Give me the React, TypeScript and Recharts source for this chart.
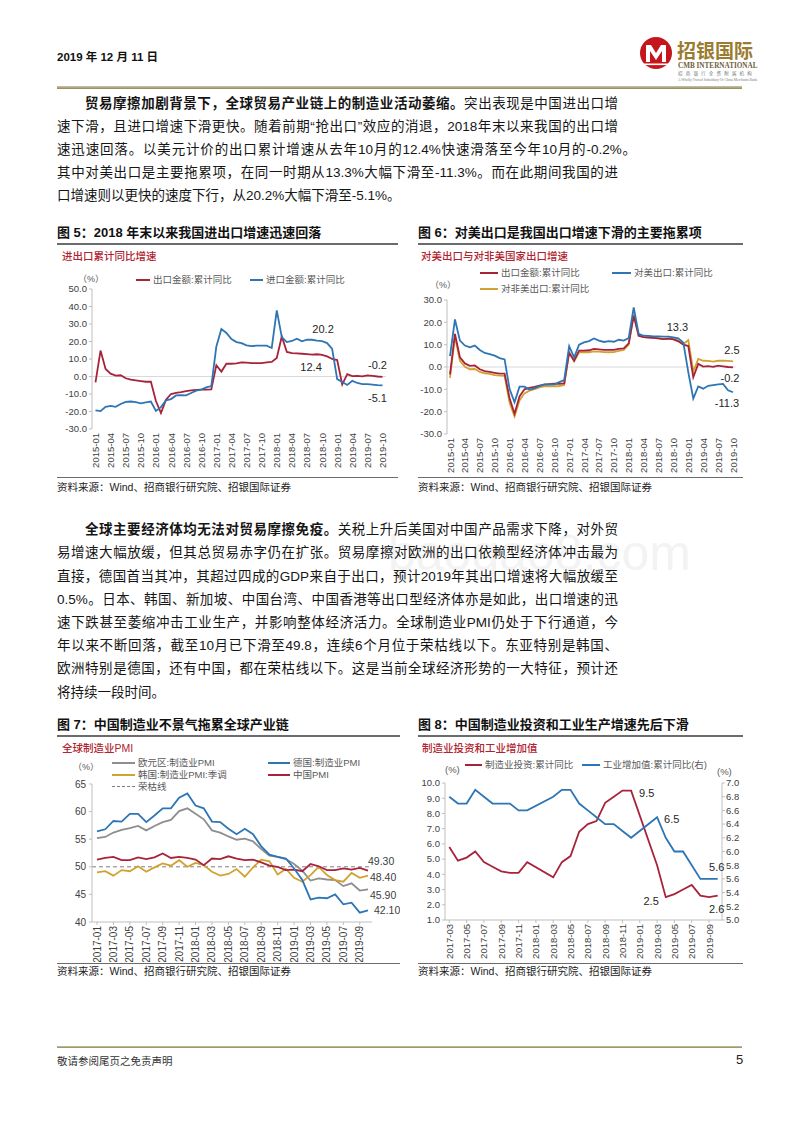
import React from "react"
import { LineChart, Line, XAxis, YAxis, ReferenceLine, LabelList } from "recharts"

// ---- data ----------------------------------------------------------------

const MONTHS_1519 = [
  "2015-01", "2015-02", "2015-03", "2015-04", "2015-05", "2015-06", "2015-07", "2015-08", "2015-09", "2015-10", "2015-11", "2015-12",
  "2016-01", "2016-02", "2016-03", "2016-04", "2016-05", "2016-06", "2016-07", "2016-08", "2016-09", "2016-10", "2016-11", "2016-12",
  "2017-01", "2017-02", "2017-03", "2017-04", "2017-05", "2017-06", "2017-07", "2017-08", "2017-09", "2017-10", "2017-11", "2017-12",
  "2018-01", "2018-02", "2018-03", "2018-04", "2018-05", "2018-06", "2018-07", "2018-08", "2018-09", "2018-10", "2018-11", "2018-12",
  "2019-01", "2019-02", "2019-03", "2019-04", "2019-05", "2019-06", "2019-07", "2019-08", "2019-09", "2019-10",
]

// 出口金额:累计同比
const EXPORT_YOY = [
  -3.3, 14.8, 4.3, 1.6, 0.5, 0.7, -1.0, -1.8, -2.2, -2.6, -3.0, -3.0,
  -14.0, -20.9, -13.2, -10.0, -9.4, -8.9, -8.3, -7.9, -7.7, -7.5, -7.5, -7.3,
  6.4, 2.8, 7.3, 7.3, 7.5, 8.1, 7.9, 7.7, 7.7, 7.7, 8.1, 8.3,
  10.6, 22.9, 14.0, 13.4, 13.2, 13.0, 12.8, 12.5, 12.7, 12.4, 11.5, 10.0,
  9.4, -4.6, 1.4, 0.2, 0.4, 0.1, 0.6, 0.3, 0.0, -0.2,
]

// 进口金额:累计同比
const IMPORT_YOY = [
  -19.4, -19.8, -17.3, -16.8, -17.3, -15.7, -14.5, -14.3, -14.7, -15.3, -14.8, -14.3,
  -19.7, -17.5, -13.6, -12.9, -10.8, -10.6, -10.8, -9.4, -8.1, -7.5, -6.2, -5.5,
  17.2, 27.1, 24.9, 21.4, 19.7, 19.1, 17.8, 17.4, 17.6, 17.6, 17.6, 16.3,
  37.8, 22.5, 19.7, 20.3, 21.6, 20.1, 21.0, 21.0, 20.5, 20.2, 19.1, 15.8,
  -1.5, -3.1, -4.8, -2.5, -3.7, -4.3, -4.4, -4.6, -4.9, -5.1,
]

// 对美出口:累计同比
const US_EXPORT_YOY = [
  4.9, 21.3, 11.8, 9.6, 8.8, 9.6, 7.6, 6.3, 5.8, 5.1, 4.0, 3.4,
  -9.9, -15.8, -8.8, -8.8, -10.1, -9.6, -8.6, -7.8, -7.8, -7.9, -6.8, -5.9,
  9.3, 4.3, 10.0, 11.0, 11.6, 12.8, 11.8, 11.2, 11.6, 11.3, 12.2, 11.8,
  13.0, 26.7, 14.8, 14.0, 13.9, 13.7, 13.7, 13.6, 13.6, 13.3, 12.8, 10.9,
  -2.4, -14.1, -8.7, -9.7, -8.4, -8.1, -7.8, -7.6, -10.4, -11.3,
]

// 对非美出口:累计同比
const NONUS_EXPORT_YOY = [
  -4.9, 13.6, 2.8, 0.1, -1.0, -0.9, -2.2, -2.8, -3.1, -3.6, -3.9, -4.0,
  -16.0, -22.1, -15.0, -11.8, -10.6, -9.9, -9.1, -8.7, -8.5, -8.7, -8.5, -8.1,
  6.6, 2.5, 6.6, 6.6, 6.6, 7.0, 6.9, 6.7, 6.6, 6.7, 7.2, 7.6,
  10.0, 23.7, 14.0, 13.4, 13.3, 13.1, 12.8, 12.5, 12.7, 12.7, 11.8, 10.3,
  12.0, -2.0, 3.6, 2.8, 2.7, 2.4, 2.8, 2.8, 2.7, 2.5,
]

const MONTHS_1719 = [
  "2017-01", "2017-02", "2017-03", "2017-04", "2017-05", "2017-06", "2017-07", "2017-08", "2017-09", "2017-10", "2017-11", "2017-12",
  "2018-01", "2018-02", "2018-03", "2018-04", "2018-05", "2018-06", "2018-07", "2018-08", "2018-09", "2018-10", "2018-11", "2018-12",
  "2019-01", "2019-02", "2019-03", "2019-04", "2019-05", "2019-06", "2019-07", "2019-08", "2019-09", "2019-10",
]

const EZ_PMI = [
  55.2, 55.4, 56.2, 56.7, 57.0, 57.4, 56.6, 57.4, 58.1, 58.5, 60.1, 60.6,
  59.6, 58.6, 56.6, 56.2, 55.5, 54.9, 55.1, 54.6, 53.2, 52.0, 51.8, 51.4,
  50.5, 49.3, 47.5, 47.9, 47.7, 47.6, 46.5, 47.0, 45.7, 45.9,
]
const DE_PMI = [
  56.4, 56.8, 58.3, 58.2, 59.6, 59.6, 58.1, 59.3, 60.6, 60.6, 62.5, 63.3,
  61.1, 60.6, 58.2, 58.1, 56.9, 55.9, 56.9, 55.9, 53.7, 52.2, 51.8, 51.5,
  49.7, 47.6, 44.1, 44.4, 44.3, 45.0, 43.2, 43.5, 41.7, 42.1,
]
const KR_PMI = [
  49.0, 49.2, 48.4, 49.4, 49.2, 50.1, 49.1, 49.9, 50.6, 50.2, 51.2, 50.0,
  50.7, 50.3, 49.1, 48.4, 48.7, 49.6, 48.2, 49.9, 51.3, 51.0, 48.6, 49.6,
  48.0, 47.3, 48.5, 50.0, 48.5, 47.6, 47.3, 48.9, 48.0, 48.4,
]
const CN_PMI = [
  51.3, 51.6, 51.8, 51.2, 51.2, 51.7, 51.4, 51.7, 52.4, 51.6, 51.8, 51.6,
  51.3, 50.3, 51.5, 51.4, 51.9, 51.5, 51.2, 51.3, 50.8, 50.2, 50.0, 49.4,
  49.5, 49.2, 50.5, 50.1, 49.4, 49.4, 49.7, 49.5, 49.8, 49.3,
]
const BOOM_BUST = 50

const MONTHS_1719_MAR = [
  "2017-03", "2017-04", "2017-05", "2017-06", "2017-07", "2017-08", "2017-09", "2017-10", "2017-11", "2017-12",
  "2018-01", "2018-02", "2018-03", "2018-04", "2018-05", "2018-06", "2018-07", "2018-08", "2018-09", "2018-10", "2018-11", "2018-12",
  "2019-01", "2019-02", "2019-03", "2019-04", "2019-05", "2019-06", "2019-07", "2019-08", "2019-09", "2019-10",
]
// 制造业投资:累计同比 (no Jan/Feb prints)
const MFG_INVEST = [
  5.8, 4.9, 5.1, 5.5, 4.8, 4.5, 4.2, 4.1, 4.1, 4.8,
  null, null, 3.8, 4.8, 5.2, 6.8, 7.3, 7.5, 8.7, 9.1, 9.5, 9.5,
  null, null, 4.6, 2.5, 2.7, 3.0, 3.3, 2.6, 2.5, 2.6,
]
// 工业增加值:累计同比 (right axis)
const IND_VA = [
  6.8, 6.7, 6.7, 6.9, 6.8, 6.7, 6.7, 6.7, 6.6, 6.6,
  null, null, 6.8, 6.9, 6.9, 6.7, 6.6, 6.5, 6.4, 6.4, 6.3, 6.2,
  null, null, 6.5, 6.2, 6.0, 6.0, 5.8, 5.6, 5.6, 5.6,
]

const TICKS_FIG5 = [-30, -20, -10, 0, 10, 20, 30, 40, 50]
const TICKS_FIG6 = [-30, -20, -10, 0, 10, 20, 30]
const TICKS_FIG7 = [40, 45, 50, 55, 60, 65]
const TICKS_FIG8_L = [1, 2, 3, 4, 5, 6, 7, 8, 9, 10]
const TICKS_FIG8_R = [5.0, 5.2, 5.4, 5.6, 5.8, 6.0, 6.2, 6.4, 6.6, 6.8, 7.0]

// ---- styles --------------------------------------------------------------

const RED = "#a8233a"
const BLUE = "#2e75b6"
const GOLD = "#d2a230"
const GRAY = "#8e8e8e"
const TXT = "#404040"
const TITLE_RED = "#b0232f"
const FONT = '"Liberation Sans", "Noto Sans CJK SC", sans-serif'
const AXIS = "#bfbfbf"

const fig5 = MONTHS_1519.map((m, i) => ({ m, ex: EXPORT_YOY[i], im: IMPORT_YOY[i] }))
const fig6 = MONTHS_1519.map((m, i) => ({ m, ex: EXPORT_YOY[i], us: US_EXPORT_YOY[i], nonus: NONUS_EXPORT_YOY[i] }))
const fig7 = MONTHS_1719.map((m, i) => ({ m, ez: EZ_PMI[i], de: DE_PMI[i], kr: KR_PMI[i], cn: CN_PMI[i] }))
const fig8 = MONTHS_1719_MAR.map((m, i) => ({ m, inv: MFG_INVEST[i], va: IND_VA[i] }))

// ---- small helpers -------------------------------------------------------

function T({ x, y, size = 10, color = TXT, weight = 400, children, style }: any) {
  const lh = Math.round(size * 1.5)
  return (
    <div
      style={{
        position: "absolute", left: x, top: y - lh / 2, fontSize: size, lineHeight: `${lh}px`,
        color, fontWeight: weight, whiteSpace: "nowrap", fontFamily: FONT, ...style,
      }}
    >
      {children}
    </div>
  )
}

function Rule({ x1, x2, y, h = 1, color = "#6b6b6b", bg }: any) {
  return <div style={{ position: "absolute", left: x1, top: y - h / 2, width: x2 - x1, height: h, background: bg || color }} />
}

function Key({ x, y, w, color, dashed, text }: any) {
  return (
    <>
      <div style={{ position: "absolute", left: x, top: y - 1, width: w, borderTop: `${dashed ? 1 : 2}px ${dashed ? "dashed" : "solid"} ${color}` }} />
      <T x={x + w + 3} y={y} size={9.5} color="#595959">{text}</T>
    </>
  )
}

function BodyLine({ x, y, w, last, children }: any) {
  return (
    <div
      style={{
        position: "absolute", left: x, top: y - 11, width: w, height: 22, lineHeight: "22px",
        fontSize: 13.5, color: "#151515", fontFamily: FONT,
        textAlign: last ? "left" : "justify", textAlignLast: last ? "left" : "justify",
      } as any}
    >
      {children}
    </div>
  )
}

const rotTick = (fs: number) => (p: any) => (
  <text
    x={p.x} y={p.y} transform={`rotate(-90 ${p.x} ${p.y})`} textAnchor="end" dominantBaseline="central"
    fontSize={fs} fill={TXT} fontFamily={FONT}
  >
    {p.payload.value}
  </text>
)

// annotate one point of a series with its own value
const note = (idx: number, dx: number, dy: number, anchor = "middle", fmt = (v: number) => String(v), fs = 11, fill = "#262626") =>
  (p: any) =>
    p.index === idx ? (
      <text
        key={`n${idx}`} x={p.x + dx} y={p.y + dy} textAnchor={anchor} dominantBaseline="central"
        fontSize={fs} fill={fill} fontFamily={FONT}
      >
        {fmt(p.value)}
      </text>
    ) : null

const yTick = { fontSize: 9.5, fill: TXT, fontFamily: FONT }

// ---- charts --------------------------------------------------------------

function Fig5Chart() {
  return (
    <div style={{ position: "absolute", left: 50, top: 279 }}>
      <LineChart width={345} height={190} data={fig5} margin={{ top: 10, right: 9, bottom: 0, left: 0 }}>
        <XAxis dataKey="m" interval={2} axisLine={false} tickLine={false} tickSize={3} tickMargin={1} height={40}
          padding={{ left: 3.5, right: 3.5 }} tick={rotTick(9.5)} />
        <YAxis domain={[-30, 50]} ticks={TICKS_FIG5} interval={0} width={42} tickSize={3} tickMargin={2}
          axisLine={{ stroke: AXIS }} tickLine={{ stroke: AXIS }} tick={yTick} tickFormatter={(v: number) => v.toFixed(1)} />
        <ReferenceLine y={0} stroke="#d9d9d9" />
        <Line dataKey="ex" stroke={RED} strokeWidth={1.8} dot={false} isAnimationActive={false}>
          <LabelList dataKey="ex" content={note(45, -11, 12)} />
          <LabelList dataKey="ex" content={note(57, -5, -12)} />
        </Line>
        <Line dataKey="im" stroke={BLUE} strokeWidth={1.8} dot={false} isAnimationActive={false}>
          <LabelList dataKey="im" content={note(45, 1, -12)} />
          <LabelList dataKey="im" content={note(57, -5, 13)} />
        </Line>
      </LineChart>
    </div>
  )
}

function Fig6Chart() {
  return (
    <div style={{ position: "absolute", left: 405, top: 290 }}>
      <LineChart width={335} height={184} data={fig6} margin={{ top: 10, right: 4.5, bottom: 0, left: 0 }}>
        <XAxis dataKey="m" interval={2} axisLine={false} tickLine={false} tickSize={3} tickMargin={1} height={40}
          padding={{ left: 3, right: 2.5 }} tick={rotTick(9.5)} />
        <YAxis domain={[-30, 30]} ticks={TICKS_FIG6} interval={0} width={42} tickSize={3} tickMargin={2}
          axisLine={{ stroke: AXIS }} tickLine={{ stroke: AXIS }} tick={yTick} tickFormatter={(v: number) => v.toFixed(1)} />
        <ReferenceLine y={0} stroke="#d9d9d9" />
        <Line dataKey="nonus" stroke={GOLD} strokeWidth={1.8} dot={false} isAnimationActive={false}>
          <LabelList dataKey="nonus" content={note(57, -1, -11)} />
        </Line>
        <Line dataKey="ex" stroke={RED} strokeWidth={1.8} dot={false} isAnimationActive={false}>
          <LabelList dataKey="ex" content={note(57, -3, 11)} />
        </Line>
        <Line dataKey="us" stroke={BLUE} strokeWidth={1.8} dot={false} isAnimationActive={false}>
          <LabelList dataKey="us" content={note(45, 4, -10)} />
          <LabelList dataKey="us" content={note(57, -6, 11)} />
        </Line>
      </LineChart>
    </div>
  )
}

function Fig7Chart() {
  const f2 = (v: number) => v.toFixed(2)
  return (
    <div style={{ position: "absolute", left: 50, top: 774 }}>
      <LineChart width={350} height={188} data={fig7} margin={{ top: 10, right: 28, bottom: 0, left: 0 }}>
        <XAxis dataKey="m" interval={1} axisLine={{ stroke: AXIS }} tickLine={{ stroke: AXIS }} tickSize={3} tickMargin={1}
          height={40} padding={{ left: 5, right: 4 }} tick={rotTick(10)} />
        <YAxis domain={[40, 65]} ticks={TICKS_FIG7} interval={0} width={42} tickSize={3} tickMargin={3}
          axisLine={{ stroke: AXIS }} tickLine={{ stroke: AXIS }} tick={{ ...yTick, fontSize: 10 }} />
        <ReferenceLine y={BOOM_BUST} stroke="#7f7f7f" strokeDasharray="4 3" />
        <Line dataKey="ez" stroke={GRAY} strokeWidth={1.8} dot={false} isAnimationActive={false}>
          <LabelList dataKey="ez" content={note(33, 2, 5.5, "start", f2, 10.5, TXT)} />
        </Line>
        <Line dataKey="kr" stroke={GOLD} strokeWidth={1.8} dot={false} isAnimationActive={false}>
          <LabelList dataKey="kr" content={note(33, 2, 1.5, "start", f2, 10.5, TXT)} />
        </Line>
        <Line dataKey="cn" stroke={RED} strokeWidth={1.8} dot={false} isAnimationActive={false}>
          <LabelList dataKey="cn" content={note(33, 0, -10, "start", f2, 10.5, TXT)} />
        </Line>
        <Line dataKey="de" stroke={BLUE} strokeWidth={1.8} dot={false} isAnimationActive={false}>
          <LabelList dataKey="de" content={note(33, 6, 0, "start", f2, 10.5, TXT)} />
        </Line>
      </LineChart>
    </div>
  )
}

function Fig8Chart() {
  return (
    <div style={{ position: "absolute", left: 403, top: 773 }}>
      <LineChart width={345} height={187} data={fig8} margin={{ top: 10, right: 6, bottom: 0, left: 0 }}>
        <XAxis dataKey="m" interval={1} axisLine={{ stroke: AXIS }} tickLine={{ stroke: AXIS }} tickSize={3} tickMargin={1}
          height={40} padding={{ left: 4.3, right: 4.3 }} tick={rotTick(9.5)} />
        <YAxis yAxisId="l" domain={[1, 10]} ticks={TICKS_FIG8_L} interval={0} width={42} tickSize={3} tickMargin={2}
          axisLine={{ stroke: AXIS }} tickLine={{ stroke: AXIS }} tick={yTick} tickFormatter={(v: number) => v.toFixed(1)} />
        <YAxis yAxisId="r" orientation="right" domain={[5, 7]} ticks={TICKS_FIG8_R} interval={0} width={20} tickSize={3} tickMargin={1}
          axisLine={{ stroke: AXIS }} tickLine={{ stroke: AXIS }} tick={yTick} tickFormatter={(v: number) => v.toFixed(1)} />
        <Line yAxisId="l" dataKey="inv" stroke={RED} strokeWidth={1.8} dot={false} connectNulls isAnimationActive={false}>
          <LabelList dataKey="inv" content={note(21, 8, 2, "start")} />
          <LabelList dataKey="inv" content={note(25, -7, 4, "end")} />
          <LabelList dataKey="inv" content={note(31, -1, 13)} />
        </Line>
        <Line yAxisId="r" dataKey="va" stroke={BLUE} strokeWidth={1.8} dot={false} connectNulls isAnimationActive={false}>
          <LabelList dataKey="va" content={note(24, 7, 2, "start")} />
          <LabelList dataKey="va" content={note(31, -1, -12)} />
        </Line>
      </LineChart>
    </div>
  )
}

// ---- page ----------------------------------------------------------------

function Logo() {
  return (
    <svg style={{ position: "absolute", left: 638, top: 36 }} width={150} height={50}>
      <circle cx={18} cy={17} r={16} fill="#c4161c" />
      <path d="M8 26 L8 9 L13 9 L18 17 L23 9 L28 9 L28 26 L24 26 L24 15 L18 24 L12 15 L12 26 Z" fill="#fff" />
      <rect x={6} y={27.5} width={24} height={1.6} fill="#fff" />
      <text x={39} y={22} fontSize={19} fontWeight={700} fill="#9b7b2f" fontFamily='"Noto Sans CJK SC", sans-serif'>招银国际</text>
      <text x={40} y={32} fontSize={7.2} fontWeight={700} fill="#6f6140" fontFamily='"Liberation Serif", serif'>CMB INTERNATIONAL</text>
      <text x={40} y={39} fontSize={4.5} fill="#777" fontFamily='"Noto Sans CJK SC", sans-serif' letterSpacing={3.2}>招商银行全资附属机构</text>
      <text x={40} y={45} fontSize={4} fill="#777" fontFamily='"Liberation Serif", serif' textLength={79} lengthAdjust="spacingAndGlyphs">
        A Wholly Owned Subsidiary Of China Merchants Bank
      </text>
    </svg>
  )
}

export default function App() {
  const khaki = "linear-gradient(#cbc6a2, #8f8a5e)"
  return (
    <div style={{ position: "absolute", left: 0, top: 0, width: 800, height: 1132, background: "#fff", overflow: "hidden", fontFamily: FONT }}>
      {/* faint watermark, kept underneath the body text */}
      <T x={388} y={553} size={50} color="#f3f3f3" style={{ zIndex: 0 }}>baogao8.com</T>

      {/* header */}
      <T x={57} y={57} size={11.5} weight={700} color="#111">2019 年 12 月 11 日</T>
      <Logo />
      <Rule x1={57} x2={742} y={87} h={3} bg={khaki} />

      {/* paragraph 1 */}
      <BodyLine x={85} y={104} w={533}>
        <b>贸易摩擦加剧背景下，全球贸易产业链上的制造业活动萎缩。</b>突出表现是中国进出口增
      </BodyLine>
      <BodyLine x={57} y={127} w={561}>速下滑，且进口增速下滑更快。随着前期“抢出口”效应的消退，2018年末以来我国的出口增</BodyLine>
      <BodyLine x={57} y={150} w={579}>速迅速回落。以美元计价的出口累计增速从去年10月的12.4%快速滑落至今年10月的-0.2%。</BodyLine>
      <BodyLine x={57} y={173} w={561}>其中对美出口是主要拖累项，在同一时期从13.3%大幅下滑至-11.3%。而在此期间我国的进</BodyLine>
      <BodyLine x={57} y={196} w={561} last>口增速则以更快的速度下行，从20.2%大幅下滑至-5.1%。</BodyLine>

      {/* figure 5 */}
      <T x={57} y={233} size={13} weight={700} color="#111">图 5：2018 年末以来我国进出口增速迅速回落</T>
      <Rule x1={57} x2={398} y={244} h={1.5} />
      <T x={62} y={256} size={10.5} color={TITLE_RED} weight={500}>进出口累计同比增速</T>
      <T x={78} y={279} size={9} color="#595959">（%）</T>
      <Key x={136} y={280} w={14} color={RED} text="出口金额:累计同比" />
      <Key x={250} y={280} w={13} color={BLUE} text="进口金额:累计同比" />
      <Fig5Chart />
      <Rule x1={57} x2={398} y={477} h={1} />
      <T x={57} y={487} size={10.5} color="#222">资料来源：Wind、招商银行研究院、招银国际证券</T>

      {/* figure 6 */}
      <T x={418} y={233} size={13} weight={700} color="#111">图 6：对美出口是我国出口增速下滑的主要拖累项</T>
      <Rule x1={418} x2={743} y={244} h={1.5} />
      <T x={421} y={256} size={10.5} color={TITLE_RED} weight={500}>对美出口与对非美国家出口增速</T>
      <Key x={480} y={273} w={18} color={RED} text="出口金额:累计同比" />
      <Key x={612} y={273} w={19} color={BLUE} text="对美出口:累计同比" />
      <T x={430} y={285} size={9} color="#595959">（%）</T>
      <Key x={480} y={289} w={18} color={GOLD} text="对非美出口:累计同比" />
      <Fig6Chart />
      <Rule x1={418} x2={743} y={477} h={1} />
      <T x={418} y={487} size={10.5} color="#222">资料来源：Wind、招商银行研究院、招银国际证券</T>

      {/* paragraph 2 */}
      <BodyLine x={85} y={530} w={533}>
        <b>全球主要经济体均无法对贸易摩擦免疫。</b>关税上升后美国对中国产品需求下降，对外贸
      </BodyLine>
      <BodyLine x={57} y={553} w={561}>易增速大幅放缓，但其总贸易赤字仍在扩张。贸易摩擦对欧洲的出口依赖型经济体冲击最为</BodyLine>
      <BodyLine x={57} y={577} w={561}>直接，德国首当其冲，其超过四成的GDP来自于出口，预计2019年其出口增速将大幅放缓至</BodyLine>
      <BodyLine x={57} y={600} w={561}>0.5%。日本、韩国、新加坡、中国台湾、中国香港等出口型经济体亦是如此，出口增速的迅</BodyLine>
      <BodyLine x={57} y={623} w={561}>速下跌甚至萎缩冲击工业生产，并影响整体经济活力。全球制造业PMI仍处于下行通道，今</BodyLine>
      <BodyLine x={57} y={646} w={561}>年以来不断回落，截至10月已下滑至49.8，连续6个月位于荣枯线以下。东亚特别是韩国、</BodyLine>
      <BodyLine x={57} y={669} w={561}>欧洲特别是德国，还有中国，都在荣枯线以下。这是当前全球经济形势的一大特征，预计还</BodyLine>
      <BodyLine x={57} y={693} w={561} last>将持续一段时间。</BodyLine>

      {/* figure 7 */}
      <T x={57} y={725} size={13} weight={700} color="#111">图 7：中国制造业不景气拖累全球产业链</T>
      <Rule x1={57} x2={400} y={736} h={1.5} />
      <T x={62} y={748} size={10.5} color={TITLE_RED} weight={500}>全球制造业PMI</T>
      <T x={73} y={767} size={9} color="#595959">（%）</T>
      <Key x={112} y={763} w={23} color={GRAY} text="欧元区:制造业PMI" />
      <Key x={268} y={763} w={22} color={BLUE} text="德国:制造业PMI" />
      <Key x={112} y={775} w={23} color={GOLD} text="韩国:制造业PMI:季调" />
      <Key x={268} y={775} w={22} color={RED} text="中国PMI" />
      <Key x={112} y={787} w={23} color="#7f7f7f" dashed text="荣枯线" />
      <Fig7Chart />
      <Rule x1={57} x2={400} y={963} h={1} />
      <T x={57} y={971} size={10.5} color="#222">资料来源：Wind、招商银行研究院、招银国际证券</T>

      {/* figure 8 */}
      <T x={418} y={725} size={13} weight={700} color="#111">图 8：中国制造业投资和工业生产增速先后下滑</T>
      <Rule x1={418} x2={743} y={736} h={1.5} />
      <T x={422} y={748} size={10.5} color={TITLE_RED} weight={500}>制造业投资和工业增加值</T>
      <Key x={465} y={765} w={17} color={RED} text="制造业投资:累计同比" />
      <Key x={582} y={765} w={18} color={BLUE} text="工业增加值:累计同比(右)" />
      <T x={445} y={770} size={9.5} color="#595959">(%)</T>
      <T x={717} y={772} size={9.5} color="#595959">(%)</T>
      <Fig8Chart />
      <Rule x1={418} x2={743} y={963} h={1} />
      <T x={418} y={971} size={10.5} color="#222">资料来源：Wind、招商银行研究院、招银国际证券</T>

      {/* footer */}
      <Rule x1={57} x2={742} y={1047} h={2} bg={khaki} />
      <T x={57} y={1061} size={10.5} color="#333">敬请参阅尾页之免责声明</T>
      <T x={736} y={1060} size={13} color="#222">5</T>
    </div>
  )
}
